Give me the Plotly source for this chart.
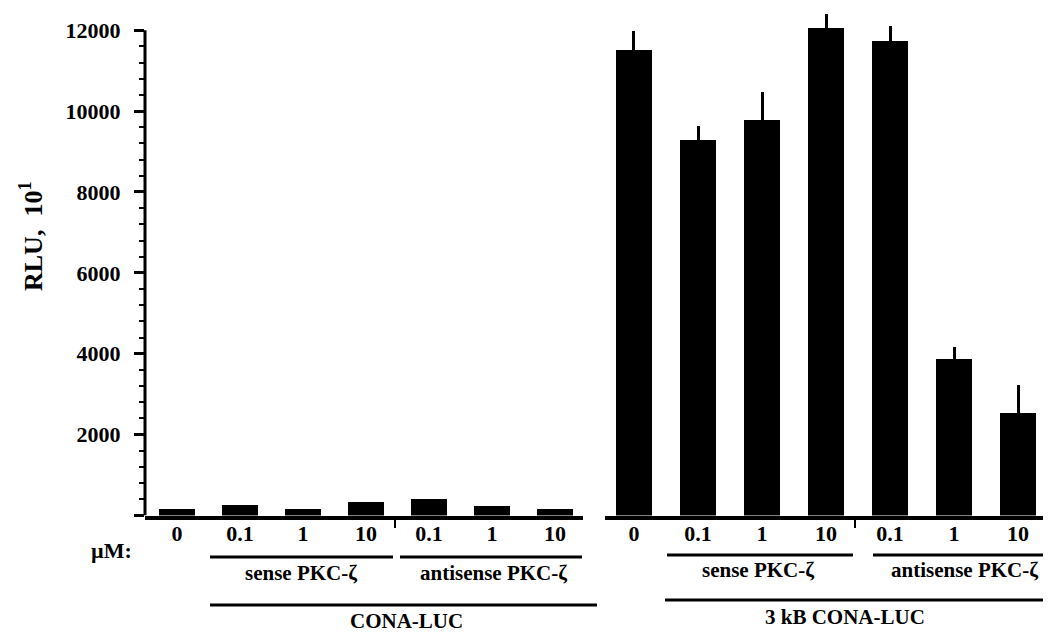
import plotly.graph_objects as go

# ---------------- data ----------------
conc_labels = ["0", "0.1", "1", "10", "0.1", "1", "10"]
cona_luc = [150, 270, 170, 340, 410, 240, 170]
kb3_cona_luc = [11500, 9280, 9780, 12050, 11730, 3880, 2540]
kb3_err = [490, 360, 700, 350, 370, 290, 680]
y_major = [0, 2000, 4000, 6000, 8000, 10000, 12000]
y_major_text = ["", "2000", "4000", "6000", "8000", "10000", "12000"]

# page body has an 8px margin; map screen pixels to figure paper coordinates
OFF = 8
W, H = 1051 - OFF, 634 - OFF
FONT = "Liberation Serif"


def px(x):
    return (x - OFF) / W


def py(y):
    return 1 - (y - OFF) / H


pos = list(range(len(conc_labels)))

fig = go.Figure()
fig.add_trace(go.Bar(x=pos, y=cona_luc, width=0.56, marker=dict(color="black", line=dict(width=0)),
                     xaxis="x", yaxis="y", showlegend=False))
fig.add_trace(go.Bar(x=pos, y=kb3_cona_luc, width=0.55, marker=dict(color="black", line=dict(width=0)),
                     error_y=dict(type="data", array=kb3_err, arrayminus=[0] * len(kb3_err), symmetric=False,
                                  width=0, thickness=3, color="black"),
                     xaxis="x2", yaxis="y", showlegend=False))

y_minor = [v for v in range(400, 12000, 400) if v % 2000 != 0]

y0_pix = 515.5
k = 0.0411
ytop = 12550
dom_bottom = py(y0_pix)
dom_top = min(1.0, py(y0_pix - ytop * k))

tickfont = dict(family=FONT, size=22, color="black", weight="bold")

fig.update_layout(
    width=W, height=H, autosize=False,
    margin=dict(l=0, r=0, t=0, b=0),
    plot_bgcolor="white", paper_bgcolor="white",
    bargap=0,
    xaxis=dict(domain=[px(145), px(583)], range=[-0.508, 6.444], anchor="y",
               tickmode="array", tickvals=pos, ticktext=conc_labels, ticks="",
               showline=True, linewidth=4, linecolor="black", showgrid=False, zeroline=False,
               tickfont=tickfont, ticklabelstandoff=-5, fixedrange=True),
    xaxis2=dict(domain=[px(605), px(1047)], range=[-0.453, 6.453], anchor="y",
                tickmode="array", tickvals=pos, ticktext=conc_labels, ticks="",
                showline=True, linewidth=4, linecolor="black", showgrid=False, zeroline=False,
                tickfont=tickfont, ticklabelstandoff=-5, fixedrange=True),
    yaxis=dict(domain=[dom_bottom, dom_top], range=[0, ytop], anchor="x",
               tickmode="array", tickvals=y_major, ticktext=y_major_text,
               ticks="outside", ticklen=10, tickwidth=3, tickcolor="black",
               minor=dict(tickmode="array", tickvals=y_minor, ticks="outside", ticklen=5,
                          tickwidth=2, tickcolor="black"),
               showline=False, showgrid=False, zeroline=False,
               tickfont=tickfont, ticklabelstandoff=9, fixedrange=True),
)

shapes = []
# y axis line up to 12000
shapes.append(dict(type="line", xref="paper", yref="y", x0=px(145), x1=px(145), y0=0, y1=12000,
                   line=dict(color="black", width=3)))
# separator ticks between sense/antisense
for xs in (395, 855):
    shapes.append(dict(type="line", xref="paper", yref="paper", x0=px(xs), x1=px(xs),
                       y0=py(519), y1=py(528), line=dict(color="black", width=2)))
# group lines
for (x0, x1, yy) in [(210, 393, 557), (400, 582, 557), (210, 597, 605),
                     (667, 853, 555), (873, 1050, 555), (665, 1050, 600)]:
    shapes.append(dict(type="line", xref="paper", yref="paper", x0=px(x0), x1=px(x1),
                       y0=py(yy), y1=py(yy), line=dict(color="black", width=3)))
fig.update_layout(shapes=shapes)

ann = []


def add_text(txt, x, y, size, angle=0):
    ann.append(dict(text="<b>" + txt + "</b>", x=px(x), y=py(y), xref="paper", yref="paper",
                    xanchor="center", yanchor="middle", showarrow=False, textangle=angle,
                    font=dict(family=FONT, size=size, color="black")))


add_text("sense PKC-ζ", 301, 573, 21)
add_text("antisense PKC-ζ", 493, 573, 21)
add_text("CONA-LUC", 406, 621, 21)
add_text("sense PKC-ζ", 758, 570, 21)
add_text("antisense PKC-ζ", 964, 570, 21)
add_text("3 kB CONA-LUC", 845, 617, 21)
add_text("µM:", 111, 550, 22)
add_text("RLU,&nbsp;&nbsp;10<sup>1</sup>", 31, 236, 26, angle=-90)
fig.update_layout(annotations=ann)

fig.write_html("out.html")
